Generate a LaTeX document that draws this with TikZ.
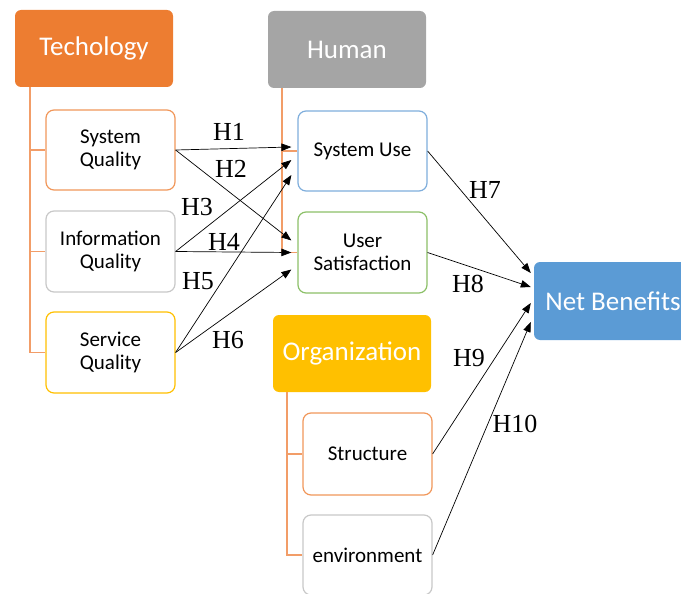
\documentclass[tikz,border=0pt]{standalone}
\usepackage{fontspec}
\setmainfont{Liberation Serif}
\newfontfamily\calfont{Carlito}
\usetikzlibrary{arrows.meta,calc}
\definecolor{techorange}{HTML}{ED7D31}
\definecolor{humangray}{HTML}{A5A5A5}
\definecolor{orgyellow}{HTML}{FFC000}
\definecolor{netblue}{HTML}{5B9BD5}
\definecolor{treeorange}{HTML}{F29D68}
\definecolor{lightgray}{HTML}{C8C8C8}
\definecolor{usgreen}{HTML}{8CC068}
\definecolor{sublue}{HTML}{7FAEDC}
\tikzset{
  header/.style={rounded corners=6pt, minimum width=158pt, minimum height=77pt, inner sep=0pt,
    text=white, font=\calfont\fontsize{27}{30}\selectfont},
  child/.style={draw, rounded corners=8pt, minimum width=129pt, minimum height=80pt, inner sep=0pt,
    fill=white, line width=1.2pt, align=center, font=\calfont\fontsize{21}{23}\selectfont},
  hlabel/.style={font=\fontsize{26}{28}\selectfont, inner sep=0pt},
  arr/.style={-{Triangle[length=10pt,width=7.5pt]}, line width=0.7pt, black},
  tree/.style={draw=treeorange, line width=1.4pt}
}
\begin{document}
\begin{tikzpicture}[x=1pt,y=-1pt]
\clip (0,0) rectangle (681,594);
\useasboundingbox (0,0) rectangle (681,594);
% headers
\node[header, fill=techorange] (tech) at (94,48.5) {Techology};
\node[header, fill=humangray] (human) at (347,49.5) {Human};
\node[header, fill=orgyellow] (org) at (352,353.5) {Organization};
\node[header, fill=netblue, minimum height=78pt] (net) at (613,301) {Net Benefits};
% children
\node[child, draw=techorange!80] (sq) at (110.5,150) {System\\Quality};
\node[child, draw=lightgray, minimum height=81pt] (iq) at (110.5,251.5) {Information\\Quality};
\node[child, draw=orgyellow, minimum height=81pt] (svq) at (110.5,352.5) {Service\\Quality};
\node[child, draw=sublue] (su) at (362.5,151) {System Use};
\node[child, draw=usgreen, minimum height=81pt] (us) at (362.5,252.5) {User\\Satisfaction};
\node[child, draw=techorange!80, minimum height=82pt] (st) at (367.5,454) {Structure};
\node[child, draw=lightgray] (env) at (367.5,555) {environment};
% tree lines
\draw[tree] ($(tech.south west)+(15,0)$) |- (sq.west);
\draw[tree] ($(tech.south west)+(15,0)$) |- (iq.west);
\draw[tree] ($(tech.south west)+(15,0)$) |- (svq.west);
\draw[tree] ($(human.south west)+(14,0)$) |- (su.west);
\draw[tree] ($(human.south west)+(14,0)$) |- (us.west);
\draw[tree] ($(org.south west)+(14,0)$) |- (st.west);
\draw[tree] ($(org.south west)+(14,0)$) |- (env.west);
% arrows
\draw[arr] (sq.east) -- ($(su.west)+(-6,-4)$);
\draw[arr] (sq.east) -- ($(us.west)+(-6,-12)$);
\draw[arr] (iq.east) -- ($(su.west)+(-6,9)$);
\draw[arr] (iq.east) -- ($(us.west)+(-6,0)$);
\draw[arr] (svq.east) -- ($(su.west)+(-6,24)$);
\draw[arr] (svq.east) -- ($(us.west)+(-6,17)$);
\draw[arr] (su.east) -- ($(net.west)+(-3,-28)$);
\draw[arr] (us.east) -- ($(net.west)+(-3,-14)$);
\draw[arr] (st.east) -- ($(net.west)+(-3,2)$);
\draw[arr] (env.east) -- ($(net.west)+(-3,21)$);
% labels
\node[hlabel] (h1) at (229,132) {H1};
\node[hlabel] (h2) at (231,169) {H2};
\node[hlabel] (h3) at (197,207.5) {H3};
\node[hlabel] (h4) at (224,242) {H4};
\node[hlabel] (h5) at (198,281) {H5};
\node[hlabel] (h6) at (228,340) {H6};
\node[hlabel] (h7) at (485,190) {H7};
\node[hlabel] (h8) at (468,284) {H8};
\node[hlabel] (h9) at (469,358) {H9};
\node[hlabel] (h10) at (515,424) {H10};
\end{tikzpicture}
\end{document}
